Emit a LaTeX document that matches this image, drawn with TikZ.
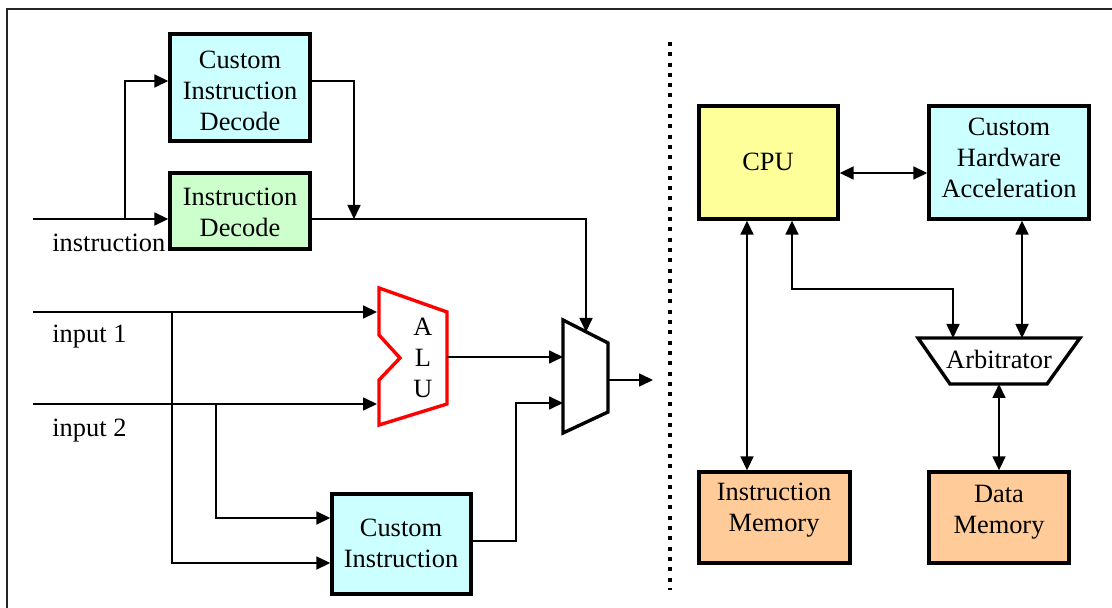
\documentclass[tikz,border=0pt]{standalone}
\usepackage{fontspec}
\setmainfont{Liberation Serif}
\usetikzlibrary{arrows.meta}
\definecolor{boxcyan}{HTML}{CCFFFF}
\definecolor{boxgreen}{HTML}{CCFFCC}
\definecolor{boxyellow}{HTML}{FFFF99}
\definecolor{boxorange}{HTML}{FFCC99}
\begin{document}
\begin{tikzpicture}[x=0.5pt,y=-0.5pt,
  txt/.style={inner sep=0pt,align=center,font=\fontsize{13.2pt}{15.5pt}\selectfont},
  blk/.style={draw=black,line width=1.7pt,inner sep=0pt},
  wire/.style={line width=0.85pt},
  arr/.style={wire,-{Triangle[length=7pt,width=6.5pt]}},
  darr/.style={wire,{Triangle[length=7pt,width=6.5pt]}-{Triangle[length=7pt,width=6.5pt]}}]
\useasboundingbox (0,0) rectangle (1112,608);
% outer frame
\draw[line width=1pt,black!85] (7,608) -- (7,9) -- (1112,9);
% dotted divider
\draw[line width=2pt,dash pattern=on 2pt off 3.15pt] (670,42) -- (670,590);

% ---- processor data path ----
\node[blk,fill=boxcyan,minimum width=70pt,minimum height=53.5pt] (cid) at (240,87.5) {};
\node[txt] (cidt) at (240,90.5) {Custom\\Instruction\\Decode};
\node[blk,fill=boxgreen,minimum width=70pt,minimum height=38pt] (id) at (240,211) {};
\node[txt] (idt) at (240,212) {Instruction\\Decode};
\node[blk,fill=boxcyan,minimum width=69.5pt,minimum height=50pt] (ci) at (401.5,544) {};
\node[txt] (cit) at (401,543) {Custom\\Instruction};

\node[txt,anchor=west] (linstr) at (52,243) {instruction};
\node[txt,anchor=west] (lin1) at (52,337) {input 1};
\node[txt,anchor=west] (lin2) at (52,431) {input 2};

% ALU outline
\coordinate (aluTL) at (379,288);
\coordinate (aluTR) at (447,312);
\coordinate (aluBR) at (447,404);
\coordinate (aluBL) at (379,425);
\draw[red,line width=1.7pt,line join=miter] (aluTL) -- (aluTR) -- (aluBR) -- (aluBL)
  -- (379,380) -- (400,358) -- (379,335) -- cycle;
\node[txt] (alut) at (423,358) {A\\L\\U};
\coordinate (aluOut) at (447,357);

% multiplexer
\coordinate (muxTL) at (563,320);
\coordinate (muxTR) at (608,343);
\coordinate (muxBR) at (608,412);
\coordinate (muxBL) at (563,433);
\draw[line width=1.7pt,line join=miter] (muxTL) -- (muxTR) -- (muxBR) -- (muxBL) -- cycle;
\coordinate (muxSel) at (586,332);
\coordinate (muxA) at (563,357);
\coordinate (muxB) at (563,403);
\coordinate (muxOut) at (608,380);
\coordinate (muxEnd) at (653,380);

% instruction decode wiring
\coordinate (instrS) at (33,219);
\coordinate (instrBr) at (125,219);
\coordinate (decJoin) at (354,219);
\draw[arr] (instrS) -- (instrS -| id.west);
\draw[arr] (instrBr) |- ([yshift=3.25pt]cid.west);
\draw[arr] ([yshift=3.25pt]cid.east) -| (decJoin);
\draw[arr] (id.east |- decJoin) -| (muxSel);

% operand inputs
\coordinate (in1S) at (33,312);
\coordinate (in1E) at (377,312);
\coordinate (in1Br) at (172,312);
\coordinate (in2S) at (33,404);
\coordinate (in2E) at (377,404);
\coordinate (in2Br) at (216,404);
\draw[arr] (in1S) -- (in1E);
\draw[arr] (in2S) -- (in2E);
\draw[arr] (in1Br) |- ([yshift=-9.5pt]ci.west);
\draw[arr] (in2Br) |- ([yshift=13pt]ci.west);

% into and out of the multiplexer
\coordinate (ciBend) at (516,403);
\draw[arr] (aluOut) -- (muxA);
\draw[arr] ([yshift=1.5pt]ci.east) -| (ciBend) -- (muxB);
\draw[arr] (muxOut) -- (muxEnd);

% ---- system view ----
\node[blk,fill=boxyellow,minimum width=69.5pt,minimum height=56.5pt] (cpu) at (768.5,162.5) {};
\node[txt] (cput) at (768,162) {CPU};
\node[blk,fill=boxcyan,minimum width=80pt,minimum height=56.5pt] (cha) at (1009,162.5) {};
\node[txt] (chat) at (1009,158) {Custom\\Hardware\\Acceleration};
\node[blk,fill=boxorange,minimum width=75.5pt,minimum height=45.5pt] (im) at (774.5,517.5) {};
\node[txt] (imt) at (774,510) {Instruction\\Memory};
\node[blk,fill=boxorange,minimum width=70pt,minimum height=45.5pt] (dm) at (999,517.5) {};
\node[txt] (dmt) at (999,512) {Data\\Memory};

% arbitrator
\coordinate (arbTL) at (918,338);
\coordinate (arbTR) at (1080,338);
\coordinate (arbBR) at (1047,384);
\coordinate (arbBL) at (950,384);
\draw[line width=1.7pt,line join=miter] (arbTL) -- (arbTR) -- (arbBR) -- (arbBL) -- cycle;
\node[txt] (arbt) at (999,359) {Arbitrator};

\coordinate (xIm) at (747,0);
\coordinate (xCpu) at (792,0);
\coordinate (xArbL) at (953,338);
\coordinate (xArbR) at (1022,338);
\coordinate (xArbB) at (999,384);
\coordinate (busY) at (0,289);

\draw[darr] ([yshift=-5.25pt]cpu.east) -- ([yshift=-5.25pt]cha.west);
\draw[darr] (xIm |- cpu.south) -- (xIm |- im.north);
\draw[darr] (xCpu |- cpu.south) -- (xCpu |- busY) -| (xArbL);
\draw[darr] (xArbR |- cha.south) -- (xArbR);
\draw[darr] (xArbB) -- (xArbB |- dm.north);
\end{tikzpicture}
\end{document}
